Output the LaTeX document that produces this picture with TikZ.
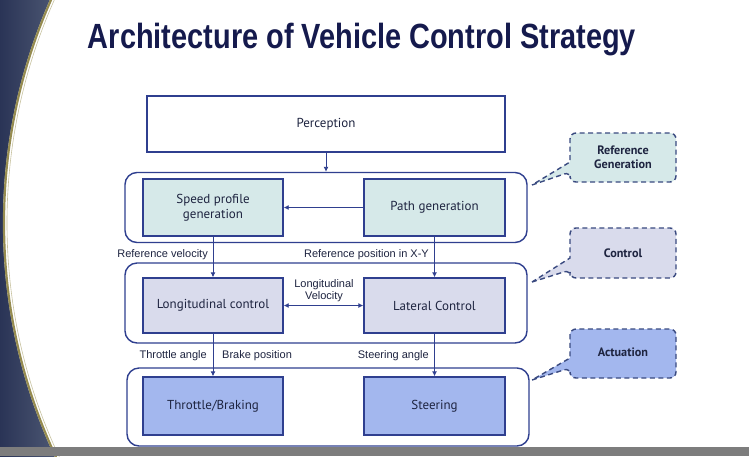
\documentclass[tikz,border=0pt]{standalone}
\usepackage{fontspec}
\setmainfont{PT Sans}
\newfontfamily\labfont{Liberation Sans}
\newfontfamily\titlefont{Liberation Sans}
\usetikzlibrary{arrows.meta,shapes.geometric}
\definecolor{navy}{HTML}{2F3F8F}
\definecolor{titlecol}{HTML}{151A4D}
\definecolor{tealfill}{HTML}{D6E9E9}
\definecolor{lavfill}{HTML}{D9DBEC}
\definecolor{bluefill}{HTML}{A3B7EE}
\definecolor{callline}{HTML}{3A4A80}
\definecolor{txt}{HTML}{1E2440}
\definecolor{decoA}{HTML}{2A3456}
\definecolor{decoB}{HTML}{55607A}
\definecolor{gold}{RGB}{150,140,80}
\definecolor{goldlight}{RGB}{200,195,160}
\definecolor{barcol}{RGB}{125,125,125}
\tikzset{
  box/.style={draw=navy, line width=1.4pt, minimum width=140pt, minimum height=56pt, inner sep=2pt, align=center, font=\fontsize{13}{15}\selectfont, text=txt},
  group/.style={draw=navy, line width=1.4pt, rounded corners=12pt, minimum width=402pt},
  arr/.style={draw=navy, line width=0.9pt, -{Latex[length=5pt,width=5pt]}},
  darr/.style={draw=navy, line width=0.9pt, {Latex[length=5pt,width=5pt]}-{Latex[length=5pt,width=5pt]}},
  lab/.style={font=\labfont\fontsize{11}{12.5}\selectfont, text=txt, inner sep=0pt},
  callout/.style={draw=callline, line width=1.4pt, dash pattern=on 5pt off 3.5pt, rounded corners=6pt},
  calltext/.style={font=\bfseries\fontsize{12.2}{14}\selectfont, text=txt, align=center},
}
\begin{document}
\begin{tikzpicture}[x=1pt,y=-1pt]
\clip (0,0) rectangle (749,456);
\useasboundingbox (0,0) rectangle (749,456);
\fill[white] (0,0) rectangle (749,456);
% left decoration
\shade[left color=decoA, right color=decoB] (0,0) rectangle (70,456);
\fill[white] (555,223) circle (552);
\draw[gold, line width=2.2pt] (555,223) circle (551);
\draw[goldlight, line width=0.6pt] (555,223) circle (548);
% bottom bar
\fill[barcol] (0,447) rectangle (749,456);
% title
\node[text=titlecol, inner sep=0pt, anchor=base] (title) at (362,48) {\resizebox{548pt}{\height}{\titlefont\bfseries\fontsize{35}{40}\selectfont Architecture of Vehicle Control Strategy}};
% groups
\node[group, minimum height=70pt] (g1) at (326,207.5) {};
\node[group, minimum height=80pt] (g2) at (326,303) {};
\node[group, minimum height=78pt] (g3) at (328,407) {};
% boxes
\node[box, fill=white, minimum width=358pt] (perc) at (326,124) {Perception};
\node[box, fill=tealfill, minimum height=57pt] (speed) at (213,207.5) {Speed profile\\generation};
\node[box, fill=tealfill, minimum height=57pt, minimum width=141pt] (path) at (434.5,207.5) {Path generation};
\node[box, fill=lavfill, minimum height=55pt] (longi) at (213,305.5) {Longitudinal control};
\node[box, fill=lavfill, minimum height=55pt, minimum width=141pt] (lat) at (434.5,305.5) {Lateral Control};
\node[box, fill=bluefill, minimum height=58pt] (thr) at (213,406) {Throttle/Braking};
\node[box, fill=bluefill, minimum height=58pt, minimum width=141pt] (steer) at (434.5,406) {Steering};
% connectors
\draw[arr] (perc) -- (g1);
\draw[arr] (path) -- (speed);
\draw[arr] (speed) -- (longi);
\draw[arr] (path) -- (lat);
\draw[darr] (longi) -- (lat);
\draw[arr] (longi) -- (thr);
\draw[arr] (lat) -- (steer);
% labels
\node[lab, anchor=east] (l1) at (208,255) {Reference velocity};
\node[lab, anchor=east] (l2) at (429,255) {Reference position in X-Y};
\node[lab, align=center] (l3) at (324,290.5) {Longitudinal\\Velocity};
\node[lab, anchor=east] (l4) at (207,356) {Throttle angle};
\node[lab, anchor=west] (l5) at (222,356) {Brake position};
\node[lab, anchor=east] (l6) at (429,356) {Steering angle};
% callouts
\path[callout, fill=tealfill] (532,185) -- (570,172) [rounded corners=6pt] -- (570,182) -- (676,182) -- (676,133) -- (570,133) [sharp corners] -- (570,162) -- cycle;
\node[calltext] (c1) at (623,157) {Reference\\Generation};
\path[callout, fill=lavfill] (532,282) -- (570,270) [rounded corners=6pt] -- (570,278) -- (676,278) -- (676,228) -- (570,228) [sharp corners] -- (570,258) -- cycle;
\node[calltext] (c2) at (623,253) {Control};
\path[callout, fill=bluefill] (532,380) -- (570,368) [rounded corners=6pt] -- (570,378) -- (676,378) -- (676,329) -- (570,329) [sharp corners] -- (570,358) -- cycle;
\node[calltext] (c3) at (623,352) {Actuation};
\end{tikzpicture}
\end{document}
